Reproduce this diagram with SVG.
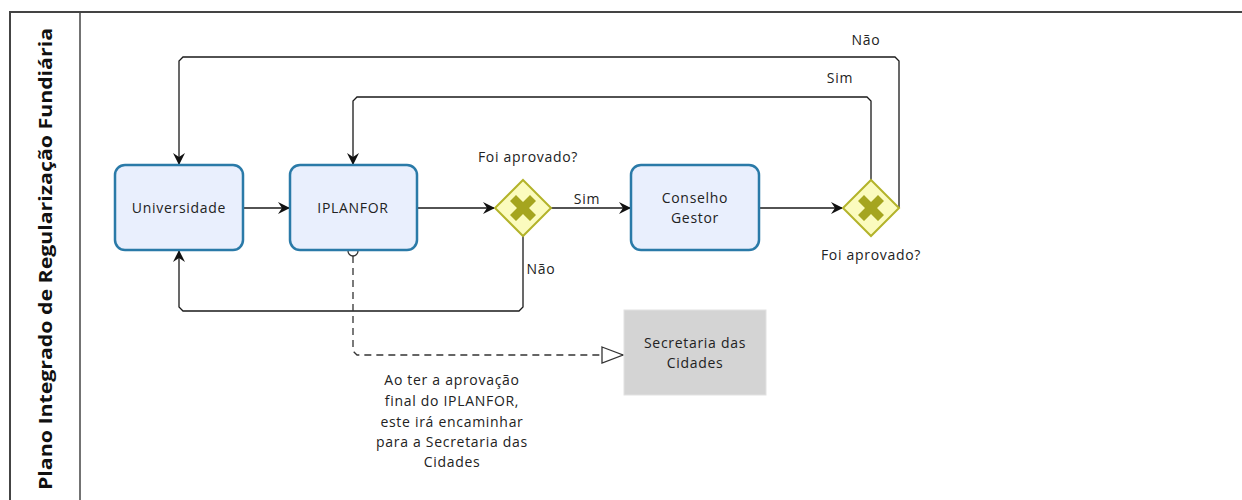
<svg xmlns="http://www.w3.org/2000/svg" width="1242" height="500" viewBox="0 0 1242 500">
<style>
text{font-family:"Open Sans","Noto Sans","DejaVu Sans",sans-serif;font-size:14px;letter-spacing:0.7px;fill:#222}
.task{fill:#e9effd;stroke:#2a7aa8;stroke-width:2.5}
.gw{fill:#fbfbbe;stroke:#b3b32a;stroke-width:2}
.gx{fill:#a5a51f}
.flow{fill:none;stroke:#1a1a1a;stroke-width:1.3}
.assoc{fill:none;stroke:#333;stroke-width:1.3;stroke-dasharray:7,5}
.lbl{text-anchor:middle}
</style>
<defs>
<marker id="arr" markerWidth="12" markerHeight="12" refX="11" refY="6" orient="auto" markerUnits="userSpaceOnUse">
<path d="M0,0 L12,6 L0,12 L4,6 Z" fill="#111"/>
</marker>
<marker id="open" markerWidth="24" markerHeight="18" refX="22" refY="9" orient="auto" markerUnits="userSpaceOnUse">
<path d="M1,1 L22,9 L1,17 Z" fill="#fff" stroke="#333" stroke-width="1.3"/>
</marker>
</defs>
<rect x="0" y="0" width="1242" height="500" fill="#fff"/>
<g id="pool">
<path d="M1242,12 L10,12 L10,500" fill="none" stroke="#444" stroke-width="2"/>
<line x1="80" y1="12" x2="80" y2="500" stroke="#444" stroke-width="1.5"/>
<text transform="translate(52,490) rotate(-90)" style="font-size:18px;font-weight:bold;fill:#111;letter-spacing:0" textLength="462" lengthAdjust="spacingAndGlyphs">Plano Integrado de Regularização Fundiária</text>
</g>
<g id="connectors">
<line class="flow" x1="243" y1="208" x2="289" y2="208" marker-end="url(#arr)"/>
<line class="flow" x1="417" y1="208" x2="494" y2="208" marker-end="url(#arr)"/>
<line class="flow" x1="551" y1="208" x2="630" y2="208" marker-end="url(#arr)"/>
<line class="flow" x1="759" y1="208" x2="842" y2="208" marker-end="url(#arr)"/>
<path class="flow" d="M523,236 L523,307 L519,311 L183,311 L179,307 L179,251" marker-end="url(#arr)"/>
<path class="flow" d="M871,180 L871,101 L867,97 L357,97 L353,101 L353,164" marker-end="url(#arr)"/>
<path class="flow" d="M899,208 L899,61 L895,57 L183,57 L179,61 L179,164" marker-end="url(#arr)"/>
<path class="assoc" d="M353,256 L353,351 L357,355 L623,355" marker-end="url(#open)"/>
<circle cx="353" cy="251" r="5" fill="#fff" stroke="#333" stroke-width="1.3"/>
<text x="587" y="204" class="lbl">Sim</text>
<text x="541" y="274" class="lbl">Não</text>
<text x="840" y="83" class="lbl">Sim</text>
<text x="866" y="45" class="lbl">Não</text>
</g>
<g id="universidade">
<rect class="task" x="115" y="165" width="128" height="85" rx="10"/>
<text x="179" y="213" class="lbl">Universidade</text>
</g>
<g id="iplanfor">
<rect class="task" x="290" y="165" width="127" height="85" rx="10"/>
<text x="353" y="213" class="lbl">IPLANFOR</text>
</g>
<g id="gateway1">
<path class="gw" d="M523,180 L551,208 L523,236 L495,208 Z"/>
<path class="gx" d="M523,202 L530,195 L536,201 L529,208 L536,215 L530,221 L523,214 L516,221 L510,215 L517,208 L510,201 L516,195 Z"/>
<text x="528" y="162" class="lbl">Foi aprovado?</text>
</g>
<g id="conselho">
<rect class="task" x="631" y="165" width="128" height="85" rx="10"/>
<text x="695" y="203" class="lbl">Conselho</text>
<text x="695" y="223" class="lbl">Gestor</text>
</g>
<g id="gateway2">
<path class="gw" d="M871,180 L899,208 L871,236 L843,208 Z"/>
<path class="gx" d="M871,202 L878,195 L884,201 L877,208 L884,215 L878,221 L871,214 L864,221 L858,215 L865,208 L858,201 L864,195 Z"/>
<text x="871" y="260" class="lbl">Foi aprovado?</text>
</g>
<g id="secretaria">
<rect x="624" y="310" width="142" height="85" fill="#d4d4d4" stroke="#e2e2e2" stroke-width="1"/>
<text x="695" y="348" class="lbl">Secretaria das</text>
<text x="695" y="368" class="lbl">Cidades</text>
</g>
<g id="annotation">
<text x="452" y="385" class="lbl">Ao ter a aprovação</text>
<text x="452" y="406" class="lbl">final do IPLANFOR,</text>
<text x="452" y="427" class="lbl">este irá encaminhar</text>
<text x="452" y="447" class="lbl">para a Secretaria das</text>
<text x="452" y="467" class="lbl">Cidades</text>
</g>
</svg>
